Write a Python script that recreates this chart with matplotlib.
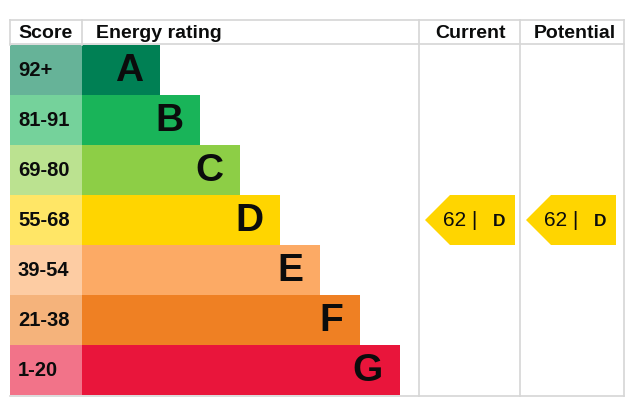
import matplotlib
matplotlib.use("Agg")
import matplotlib.pyplot as plt
from matplotlib.patches import Polygon
from matplotlib.colors import to_rgb

# ---- data ----
ratings = ["A", "B", "C", "D", "E", "F", "G"]
score_ranges = ["92+", "81-91", "69-80", "55-68", "39-54", "21-38", "1-20"]
band_colors = ["#008054", "#19b459", "#8dce46", "#ffd500", "#fcaa65", "#ef8023", "#e9153b"]
headers = ["Score", "Energy rating", "Current", "Potential"]
current_score = 62
current_rating = "D"
potential_score = 62
potential_rating = "D"

plt.rcParams['font.family'] = ['Liberation Sans', 'DejaVu Sans']

W, H = 634, 407
fig = plt.figure(figsize=(W / 100, H / 100), dpi=100)
ax = fig.add_axes([0, 0, 1, 1])
ax.set_xlim(0, W)
ax.set_ylim(H, 0)
ax.axis("off")

# layout (pixels)
left, score_right, cur_left, pot_left, right = 10, 82, 419, 520, 624
top, head_bottom, row_h = 20, 45, 50
bottom = head_bottom + row_h * len(ratings)
text_col = "#0b0c0c"
grid_col = "#d6d6d6"


def lighten(c, a=0.6):
    r, g, b = to_rgb(c)
    return (1 - a + a * r, 1 - a + a * g, 1 - a + a * b)


centers = [head_bottom + row_h * (i + 0.5) for i in range(len(ratings))]
lengths = [78 + 40 * i for i in range(len(ratings))]

# score cells
ax.barh(centers, [score_right - left] * len(ratings), left=left, height=row_h,
        color=[lighten(c) for c in band_colors], linewidth=0)
# rating bars
ax.barh(centers, lengths, left=score_right, height=row_h,
        color=band_colors, linewidth=0)

for yc, ln, lab, sr in zip(centers, lengths, ratings, score_ranges):
    ax.text(score_right + ln - 17, yc + 1, lab, ha="right", va="center",
            fontsize=28, fontweight="bold", color=text_col)
    ax.text(left + 8, yc, sr, ha="left", va="center",
            fontsize=14.5, fontweight="bold", color=text_col)

# grid lines
lw = 1.2
ax.plot([left, right], [top, top], color=grid_col, lw=lw)
ax.plot([left, right], [head_bottom - 1, head_bottom - 1], color=grid_col, lw=lw)
ax.plot([left, right], [bottom + 1, bottom + 1], color=grid_col, lw=lw)
for x in (left, score_right):
    ax.plot([x, x], [top, head_bottom], color=grid_col, lw=lw)
for x in (cur_left, pot_left, right):
    ax.plot([x, x], [top, bottom + 1], color=grid_col, lw=lw)

# headers
hy = (top + head_bottom) / 2 + 1
ax.text(left + 8, hy, headers[0], ha="left", va="center", fontsize=14, fontweight="bold", color=text_col)
ax.text(score_right + 14, hy, headers[1], ha="left", va="center", fontsize=14, fontweight="bold", color=text_col)
ax.text((cur_left + pot_left) / 2 + 1, hy, headers[2], ha="center", va="center", fontsize=14, fontweight="bold", color=text_col)
ax.text((pot_left + right) / 2 + 3, hy, headers[3], ha="center", va="center", fontsize=14, fontweight="bold", color=text_col)


def arrow(col_left, score, rating):
    i = ratings.index(rating)
    y0 = head_bottom + row_h * i
    y1 = y0 + row_h
    ym = (y0 + y1) / 2
    tip = col_left + 6
    notch = tip + 25
    rx = tip + 90
    poly = Polygon([(tip, ym), (notch, y0), (rx, y0), (rx, y1), (notch, y1)],
                   closed=True, facecolor=band_colors[i], edgecolor="none")
    ax.add_patch(poly)
    ax.text(tip + 18, ym + 1, f"{score} |", ha="left", va="center",
            fontsize=15, color=text_col)
    ax.text(rx - 10, ym + 1, rating, ha="right", va="center",
            fontsize=12.5, fontweight="bold", color=text_col)


arrow(cur_left, current_score, current_rating)
arrow(pot_left, potential_score, potential_rating)

fig.savefig("out.png", dpi=100)
